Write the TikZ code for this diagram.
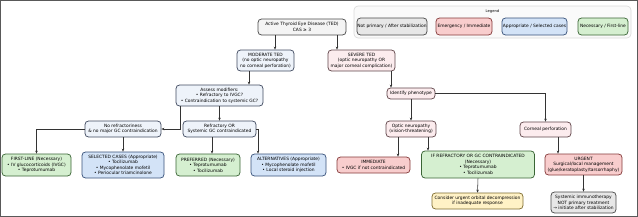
\documentclass[tikz,border=0pt]{standalone}
\usepackage{fontspec}
\setmainfont{DejaVu Sans}
\usepackage{tikz}
\usetikzlibrary{arrows.meta}
\usepackage{xcolor}

\definecolor{necfill}{HTML}{D5EFD0}\definecolor{necdraw}{HTML}{3A6535}
\definecolor{apprfill}{HTML}{D3E3F7}\definecolor{apprdraw}{HTML}{38527A}
\definecolor{emerfill}{HTML}{F8CDCD}\definecolor{emerdraw}{HTML}{853A3A}
\definecolor{npfill}{HTML}{E7E7E7}\definecolor{npdraw}{HTML}{4A4A4A}
\definecolor{consfill}{HTML}{FFF2C6}\definecolor{consdraw}{HTML}{7E6C30}
\definecolor{neufill}{HTML}{EEF3FA}\definecolor{neudraw}{HTML}{404B60}
\definecolor{sevfill}{HTML}{FCECEE}\definecolor{sevdraw}{HTML}{60454A}
\definecolor{rootfill}{HTML}{F4F4F4}

\tikzset{
  box/.style={draw,rounded corners=3.5pt,line width=0.75pt,align=center,inner sep=0pt,
    font=\fontsize{4.4}{5.5}\selectfont},
  necbox/.style={box,fill=necfill,draw=necdraw},
  apprbox/.style={box,fill=apprfill,draw=apprdraw},
  emerbox/.style={box,fill=emerfill,draw=emerdraw},
  npbox/.style={box,fill=npfill,draw=npdraw},
  consbox/.style={box,fill=consfill,draw=consdraw},
  neubox/.style={box,fill=neufill,draw=neudraw},
  sevbox/.style={box,fill=sevfill,draw=sevdraw},
  rootbox/.style={box,fill=rootfill,draw=npdraw},
  sz/.style 2 args={minimum width=#1pt,minimum height=#2pt},
  arr/.style={-{Stealth[length=3pt,width=2.5pt]},draw=black!80,line width=0.55pt}
}

\begin{document}
\begin{tikzpicture}[x=1pt,y=-1pt]
\useasboundingbox (0,0) rectangle (638,217);
\draw[black!65,line width=1.4pt] (0.7,0.7) rectangle (637.3,216.3);

% legend
\node[draw=black!15,fill=black!2,rounded corners=4pt,line width=0.6pt,minimum width=277pt,minimum height=32pt,inner sep=0pt] (legend) at (492.5,22) {};
\node[font=\fontsize{3.7}{4}\selectfont] (legtitle) at (492.5,11) {Legend};
\node[npbox,sz={70}{17}] (legnp) at (392,26.5) {Not primary / After stabilization};
\node[emerbox,sz={56}{17}] (legemer) at (464,26.5) {Emergency / Immediate};
\node[apprbox,sz={65}{17}] (legappr) at (534.5,26.5) {Appropriate / Selected cases};
\node[necbox,sz={50}{17}] (legnec) at (603,26.5) {Necessary / First-line};

% main nodes
\node[rootbox,sz={88}{16}] (root) at (302,27) {Active Thyroid Eye Disease (TED)\\CAS ≥ 3};
\node[neubox,sz={57}{21}] (mod) at (265.5,60.5) {MODERATE TED\\(no optic neuropathy\\no corneal perforation)};
\node[sevbox,sz={67}{21}] (sev) at (361.5,60.5) {SEVERE TED\\(optic neuropathy OR\\major corneal complication)};
\node[neubox,sz={87}{21}] (assess) at (219.5,95.5) {Assess modifiers:\\• Refractory to IVGC?\\• Contraindication to systemic GC?};
\node[sevbox,sz={48}{11}] (ident) at (411,93.5) {Identify phenotype};
\node[neubox,sz={76}{16}] (norefr) at (123,129) {No refractoriness\\\& no major GC contraindication};
\node[neubox,sz={73}{16}] (refr) at (219.5,129) {Refractory OR\\Systemic GC contraindicated};
\node[sevbox,sz={50}{16}] (optic) at (411,129) {Optic neuropathy\\(vision-threatening)};
\node[sevbox,sz={51}{15}] (corneal) at (545.5,129.5) {Corneal perforation};

% treatment nodes
\node[necbox,sz={69}{22}] (first) at (36.5,165) {FIRST-LINE (Necessary)\\• IV glucocorticoids (IVGC)\\• Teprotumumab};
\node[apprbox,sz={82}{26}] (sel) at (123,165) {SELECTED CASES (Appropriate)\\• Tocilizumab\\• Mycophenolate mofetil\\• Periocular triamcinolone};
\node[necbox,sz={64}{22}] (pref) at (208,165) {PREFERRED (Necessary)\\• Teprotumumab\\• Tocilizumab};
\node[apprbox,sz={75}{22}] (alt) at (288.5,165) {ALTERNATIVES (Appropriate)\\• Mycophenolate mofetil\\• Local steroid injection};
\node[emerbox,sz={73}{16}] (imm) at (373.5,165) {IMMEDIATE\\• IVGC if not contraindicated};
\node[necbox,sz={113}{27}] (ifref) at (478,164.5) {IF REFRACTORY OR GC CONTRAINDICATED\\(Necessary)\\• Teprotumumab\\• Tocilizumab};
\node[emerbox,sz={77}{21}] (urgent) at (583.5,164.5) {URGENT\\Surgical/local management\\(glue/keratoplasty/tarsorrhaphy)};
\node[consbox,sz={91}{16}] (consider) at (477.5,201) {Consider urgent orbital decompression\\if inadequate response};
\node[npbox,sz={65}{21}] (sys) at (583.5,202.5) {Systemic immunotherapy\\NOT primary treatment\\→ initiate after stabilization};

% connectors
\draw[arr] ([xshift=-27pt]root.south) -- ([xshift=-27pt]root.south |- mod.north);
\draw[arr] ([xshift=35pt]root.south) -- ([xshift=35pt]root.south |- sev.north);
\draw[arr] ([xshift=-16.5pt]mod.south) -- ([xshift=-16.5pt]mod.south |- assess.north);
\draw[arr] ([xshift=29.5pt]sev.south) -- ([xshift=29.5pt]sev.south |- ident.north);
\draw[arr] ([xshift=-39.5pt]assess.south) |- (norefr.east);
\draw[arr] (assess.south) -- (refr.north);
\draw[arr] (norefr.west) -| (first.north);
\draw[arr] (norefr.south) -- (sel.north);
\draw[arr] ([xshift=-7.5pt]refr.south) -- ([xshift=-7.5pt]refr.south |- pref.north);
\draw[arr] (refr.east) -| ([xshift=-30.5pt]alt.north);
\draw[arr] (ident.south) -- (optic.north);
\draw[arr] (ident.east) -| (corneal.north);
\draw[arr] ([xshift=-13pt]optic.south) -- ([xshift=-13pt]optic.south |- imm.north);
\draw[arr] ([xshift=17pt]optic.south) -- ([xshift=17pt]optic.south |- ifref.north);
\draw[arr] ([xshift=12.5pt]corneal.south) -- ([xshift=12.5pt]corneal.south |- urgent.north);
\draw[arr] (ifref.south) -- (consider.north);
\draw[arr] (urgent.south) -- (sys.north);
\end{tikzpicture}
\end{document}
